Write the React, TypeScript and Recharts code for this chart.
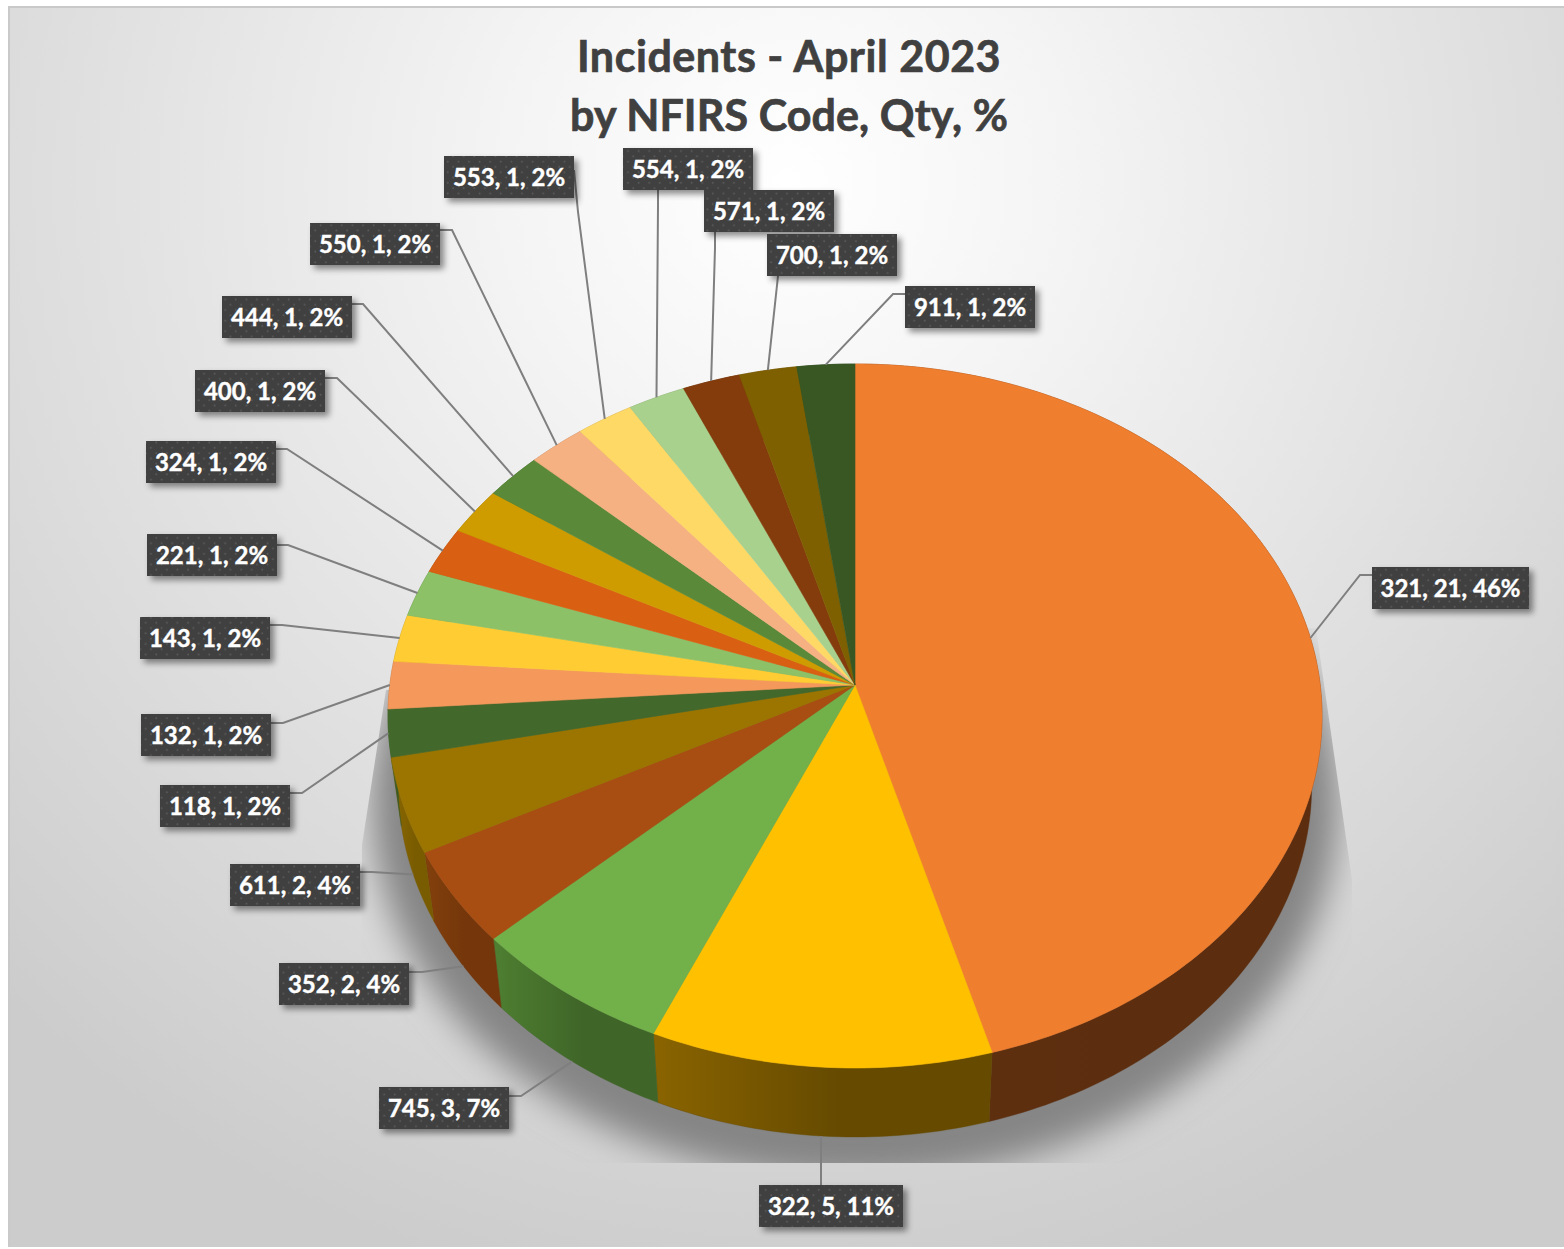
import React from "react";
import { PieChart, Pie } from "recharts";

const codes = ["321", "322", "745", "352", "611", "118", "132", "143", "221", "324", "400", "444", "550", "553", "554", "571", "700", "911"];
const quantities = [21, 5, 3, 2, 2, 1, 1, 1, 1, 1, 1, 1, 1, 1, 1, 1, 1, 1];
const percents = [46, 11, 7, 4, 4, 2, 2, 2, 2, 2, 2, 2, 2, 2, 2, 2, 2, 2];
const titleLines = ["Incidents - April 2023", "by NFIRS Code, Qty, %"];

const topColors = ["#F07E2F", "#FFC000", "#72B049", "#A84E12", "#9C7500", "#43682B", "#F4995B", "#FFCD33", "#8CC168", "#D96012", "#CF9C00", "#5A8A39", "#F6B183", "#FFD966", "#A9D18E", "#843C0C", "#7F6000", "#385723"];
const wallLeft = ["#60310F", "#8A6400", "#4E7F31", "#82400C", "#8A6800", "#43682B", "#9A6238", "#9A7C20", "#5A7C43", "#8A3F0C", "#856400", "#3B5A25", "#9A7052", "#A58C42", "#6D875B", "#552707", "#523E00", "#243814"];
const wallRight = ["#5C2E0F", "#654A00", "#3F6528", "#74360A", "#7A5C00", "#3A5A25", "#9A6238", "#9A7C20", "#5A7C43", "#8A3F0C", "#856400", "#3B5A25", "#9A7052", "#A58C42", "#6D875B", "#552707", "#523E00", "#243814"];

// label box [x, y, w] and leader bend / box anchor
const labelBoxes = [[1372, 567, 157], [759, 1185, 144], [379, 1087, 130], [279, 963, 130], [230, 864, 130], [160, 785, 130], [141, 714, 130], [140, 617, 130], [147, 534, 130], [146, 441, 130], [195, 370, 130], [222, 296, 130], [310, 223, 130], [444, 156, 130], [623, 148, 130], [704, 190, 130], [767, 234, 130], [905, 286, 130]];
const leaderBends = [[[1360, 575], [1372, 575]], [[821, 1185]], [[521, 1096], [509, 1096]], [[422, 972], [409, 972]], [[372, 872], [360, 872]], [[302, 793], [290, 793]], [[283, 723], [271, 723]], [[282, 625], [270, 625]], [[288, 545], [277, 545]], [[287, 449], [276, 449]], [[337, 378], [325, 378]], [[363, 304], [352, 304]], [[452, 230], [440, 230]], [[578, 212], [574, 170]], [[658, 207], [658, 189]], [[715, 248], [715, 232]], [[778, 276]], [[893, 294], [905, 294]]];

const chartData = codes.map((code, i) => ({ code, value: quantities[i], pct: percents[i] }));

const R = 467;
const RY = 352;
const TILT = 0.088;
const DEPTH = 69;
const BASE_SCALE = 0.978;
const APEX_OFFSET = RY * TILT;

function rim(cx: number, cy: number, sweep: number) {
  const t = (sweep * Math.PI) / 180;
  const u = Math.sin(t);
  const v = Math.cos(t);
  const d = 1 + TILT * v;
  return [cx + (R * u * Math.sqrt(1 - TILT * TILT)) / d, cy + APEX_OFFSET - (RY * (v + TILT)) / d];
}

const toBase = (p: number[], cx: number) => [cx + (p[0] - cx) * BASE_SCALE, p[1] + DEPTH];

function arc(cx: number, cy: number, startAngle: number, endAngle: number) {
  const a = 90 - startAngle;
  const b = 90 - endAngle;
  const n = Math.max(2, Math.ceil(Math.abs(b - a)));
  const pts: number[][] = [];
  for (let i = 0; i <= n; i++) pts.push(rim(cx, cy, a + ((b - a) * i) / n));
  return pts;
}

const toPath = (pts: number[][]) => pts.map((p, i) => `${i ? "L" : "M"}${p[0].toFixed(2)} ${p[1].toFixed(2)}`).join(" ") + " Z";

function TopFace(props: any) {
  const { cx, cy, startAngle, endAngle, index } = props;
  const pts = [[cx, cy], ...arc(cx, cy, startAngle, endAngle)];
  const c = topColors[index];
  return <path d={toPath(pts)} fill={c} stroke={c} strokeWidth={0.6} />;
}

function WallFace(props: any) {
  const { cx, cy, startAngle, endAngle, index } = props;
  const top = arc(cx, cy, startAngle, endAngle);
  const bottom = top.map((p) => toBase(p, cx)).reverse();
  const id = `wall-${index}`;
  return (
    <g>
      <defs>
        <linearGradient id={id} x1="0" y1="0" x2="1" y2="0">
          <stop offset="0%" stopColor={wallLeft[index]} />
          <stop offset="55%" stopColor={wallRight[index]} />
          <stop offset="100%" stopColor={wallRight[index]} />
        </linearGradient>
      </defs>
      <path d={toPath([...top, ...bottom])} fill={`url(#${id})`} stroke={wallRight[index]} strokeWidth={0.4} />
    </g>
  );
}

function DataLabel(props: any) {
  const { cx, cy, midAngle, index } = props;
  const sweep = 90 - midAngle;
  const start = rim(cx, cy, sweep);
  const lower = sweep > 90 && sweep < 258.5;
  const anchor = lower ? toBase(start, cx) : start;
  const [x, y, w] = labelBoxes[index];
  const h = 42;
  const points = [anchor, ...leaderBends[index]].map((p) => p.join(",")).join(" ");
  return (
    <g>
      <polyline points={points} fill="none" stroke="#7f7f7f" strokeWidth={2} />
      <rect x={x} y={y} width={w} height={h} fill="#404040" filter="url(#boxShadow)" />
      <rect x={x} y={y} width={w} height={h} fill="url(#dots)" />
      <text
        x={x + w / 2}
        y={y + 30}
        textAnchor="middle"
        fill="#ffffff"
        stroke="#ffffff"
        strokeWidth={0.4}
        fontFamily="Lato, sans-serif"
        fontWeight={700}
        fontSize={24}
      >
        {`${codes[index]}, ${quantities[index]}, ${percents[index]}%`}
      </text>
    </g>
  );
}

export default function App() {
  return (
    <div style={{ position: "absolute", left: 0, top: 0, width: 1564, height: 1249, background: "#fff", overflow: "hidden" }}>
      <div
        style={{
          position: "absolute",
          left: 8,
          top: 6,
          width: 1556,
          height: 1241,
          boxSizing: "border-box",
          borderTop: "2px solid #c9c9c9",
          borderLeft: "2px solid #c9c9c9",
          background: "radial-gradient(ellipse 1130px 1130px at 50% 14%, #ffffff 0%, #f4f4f4 25%, #e0e0e0 62%, #cccccc 100%)",
        }}
      />
      <div style={{ position: "absolute", left: 0, top: 0 }}>
        <PieChart width={1564} height={1249} margin={{ top: 0, right: 0, bottom: 0, left: 0 }}>
          <defs>
            <filter id="shadowBlur" x="-20%" y="-20%" width="140%" height="140%">
              <feGaussianBlur stdDeviation="17" />
            </filter>
            <filter id="boxShadow" x="-10%" y="-20%" width="125%" height="150%">
              <feDropShadow dx="4" dy="4" stdDeviation="3" floodColor="#000" floodOpacity="0.45" />
            </filter>
            <pattern id="dots" width="10.6" height="10.6" patternUnits="userSpaceOnUse">
              <circle cx="2.6" cy="2.6" r="0.9" fill="#5c5c5c" />
              <circle cx="7.9" cy="7.9" r="0.9" fill="#5c5c5c" />
            </pattern>
            <clipPath id="shadowClip">
              <polygon points="1316,628 1352,880 1352,1163 360,1163 362,845 386,690" />
            </clipPath>
          </defs>
          <g clipPath="url(#shadowClip)">
            <ellipse cx={855} cy={803} rx={484} ry={378} fill="#858585" filter="url(#shadowBlur)" />
          </g>
          <text textAnchor="middle" fill="#404040" stroke="#404040" strokeWidth={0.7} fontFamily="Lato, sans-serif" fontWeight={700} fontSize={43}>
            <tspan x={789} y={72} letterSpacing={0.55}>{titleLines[0]}</tspan>
            <tspan x={789} y={131} letterSpacing={0.1}>{titleLines[1]}</tspan>
          </text>
          <Pie
            data={chartData}
            dataKey="value"
            nameKey="code"
            cx={855}
            cy={685}
            innerRadius={0}
            outerRadius={R}
            startAngle={90}
            endAngle={-270}
            paddingAngle={0}
            stroke="none"
            isAnimationActive={false}
            label={false}
            labelLine={false}
            shape={WallFace}
          />
          <Pie
            data={chartData}
            dataKey="value"
            nameKey="code"
            cx={855}
            cy={685}
            innerRadius={0}
            outerRadius={R}
            startAngle={90}
            endAngle={-270}
            paddingAngle={0}
            stroke="none"
            isAnimationActive={false}
            label={DataLabel}
            labelLine={false}
            shape={TopFace}
          />
        </PieChart>
      </div>
    </div>
  );
}
